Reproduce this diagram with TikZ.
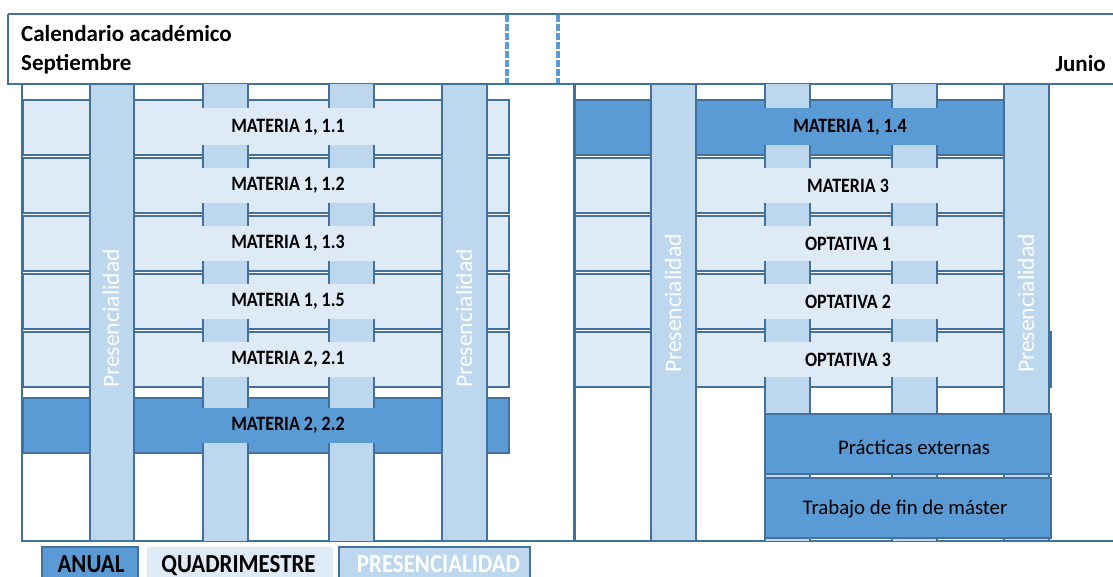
\documentclass[tikz,border=0pt]{standalone}
\usepackage{fontspec}
\setmainfont{Carlito}
\newfontfamily\narrowfont{Carlito}[FakeStretch=0.88]
\definecolor{dark}{HTML}{5B9BD5}
\definecolor{light}{HTML}{DEEBF7}
\definecolor{med}{HTML}{BDD7EE}
\definecolor{bord}{HTML}{41719C}
\tikzset{
  hdr/.style={draw=bord, line width=2pt},
  dashsep/.style={draw=dark, line width=3.5pt, dash pattern=on 7pt off 2pt},
  frame/.style={draw=bord, line width=2pt},
  quadbar/.style={fill=light, draw=bord, line width=1.2pt},
  anualbar/.style={fill=dark, draw=bord, line width=1.2pt},
  prescol/.style={fill=med, draw=bord, line width=1.2pt},
  bartext/.style={font=\narrowfont\fontsize{20.4}{22}\selectfont\bfseries, text=black, inner sep=0pt},
  boxtext/.style={font=\fontsize{20.8}{24}\selectfont, text=black, inner sep=0pt},
  prestext/.style={font=\fontsize{23.6}{26}\selectfont, text=white, rotate=90, inner sep=0pt},
  hdrtext/.style={font=\fontsize{23}{26}\selectfont\bfseries, text=black, inner sep=0pt},
  legtext/.style={font=\narrowfont\fontsize{26}{28}\selectfont\bfseries, inner sep=0pt, anchor=base},
}
\newcommand\quadtab[3]{%
  \fill[med] (#1,#2) rectangle (#1+45,#3);
  \draw[bord, line width=1.2pt] (#1,#2) -- (#1,#3) (#1+45,#2) -- (#1+45,#3);}
\begin{document}
\begin{tikzpicture}[x=1pt,y=-1pt]
\useasboundingbox (0,0) rectangle (1113,577);
\clip (0,0) rectangle (1113,577);
% header
\draw[hdr] (8,14) -- (1125,14);
\draw[hdr] (8,14) -- (8,84) -- (1125,84);
\draw[dashsep] (507,15) -- (507,83);
\draw[dashsep] (558,15) -- (558,83);
\node[hdrtext, anchor=base west] (cal) at (21,42) {Calendario académico};
\node[hdrtext, anchor=base west] (sep) at (21,71) {Septiembre};
\node[hdrtext, anchor=base east] (jun) at (1106,72) {Junio};
% frame
\draw[frame] (22,84) -- (22,541) -- (1125,541);
\draw[frame, line width=3pt] (574,84) -- (574,541);
% quadrimestre columns (behind bars)
\foreach \x in {203,329,765,892} {\quadtab{\x}{84}{541}}
% left bars
\path[quadbar] (23,100) rectangle (509,155);
\path[quadbar] (23,158) rectangle (509,213);
\path[quadbar] (23,216) rectangle (509,271);
\path[quadbar] (23,274) rectangle (509,329);
\path[quadbar] (23,332) rectangle (509,387);
\path[anualbar] (23,398) rectangle (509,453);
% right bars
\path[anualbar] (575,100) rectangle (1030,155);
\path[quadbar] (575,158) rectangle (1030,213);
\path[quadbar] (575,216) rectangle (1030,271);
\path[quadbar] (575,274) rectangle (1030,329);
\path[quadbar] (575,332) rectangle (1051,387);
% tabs over bar edges
\foreach \x in {203,329,765,892} {
  \quadtab{\x}{84}{108}
  \quadtab{\x}{145}{168}
  \quadtab{\x}{203}{226}
  \quadtab{\x}{261}{284}
  \quadtab{\x}{319}{342}
}
\foreach \x in {203,329} {
  \quadtab{\x}{377}{408}
  \quadtab{\x}{443}{541}
}
\foreach \x in {765,892} {\quadtab{\x}{377}{541}}
% presencialidad columns
\path[prescol] (90,84) rectangle (134,541);
\path[prescol] (442,84) rectangle (487,541);
\path[prescol] (651,84) rectangle (696,541);
\path[prescol] (1004,84) rectangle (1049,541);
\node[prestext] (p1) at (111,318.5) {Presencialidad};
\node[prestext] (p2) at (464,318.5) {Presencialidad};
\node[prestext] (p3) at (673,303.5) {Presencialidad};
\node[prestext] (p4) at (1026,303.5) {Presencialidad};
% practicas / trabajo
\path[anualbar] (765,414) rectangle (1051,474);
\path[anualbar] (765,478) rectangle (1051,538);
\node[boxtext] (pe) at (914,447) {Prácticas externas};
\node[boxtext] (tf) at (905,509) {Trabajo de fin de máster};
% bar labels
\node[bartext] (m11) at (288,127.5) {MATERIA 1, 1.1};
\node[bartext] (m12) at (288,185.5) {MATERIA 1, 1.2};
\node[bartext] (m13) at (288,243.5) {MATERIA 1, 1.3};
\node[bartext] (m15) at (288,301.5) {MATERIA 1, 1.5};
\node[bartext] (m21) at (288,359.5) {MATERIA 2, 2.1};
\node[bartext] (m22) at (288,425.5) {MATERIA 2, 2.2};
\node[bartext] (m14) at (850,127.5) {MATERIA 1, 1.4};
\node[bartext] (m3) at (848,185.5) {MATERIA 3};
\node[bartext] (o1) at (848,243.5) {OPTATIVA 1};
\node[bartext] (o2) at (848,301.5) {OPTATIVA 2};
\node[bartext] (o3) at (848,359.5) {OPTATIVA 3};
% legend
\path[fill=dark, draw=bord, line width=1.2pt] (42,547) rectangle (138,600);
\path[fill=light] (147,547) rectangle (333,600);
\path[fill=med, draw=bord, line width=1.2pt] (339,547) rectangle (530,600);
\node[legtext, text=black] (la) at (91,572) {ANUAL};
\node[legtext, text=black] (lq) at (238.5,572) {QUADRIMESTRE};
\node[legtext, text=white] (lp) at (438.5,572) {PRESENCIALIDAD};
\end{tikzpicture}
\end{document}
